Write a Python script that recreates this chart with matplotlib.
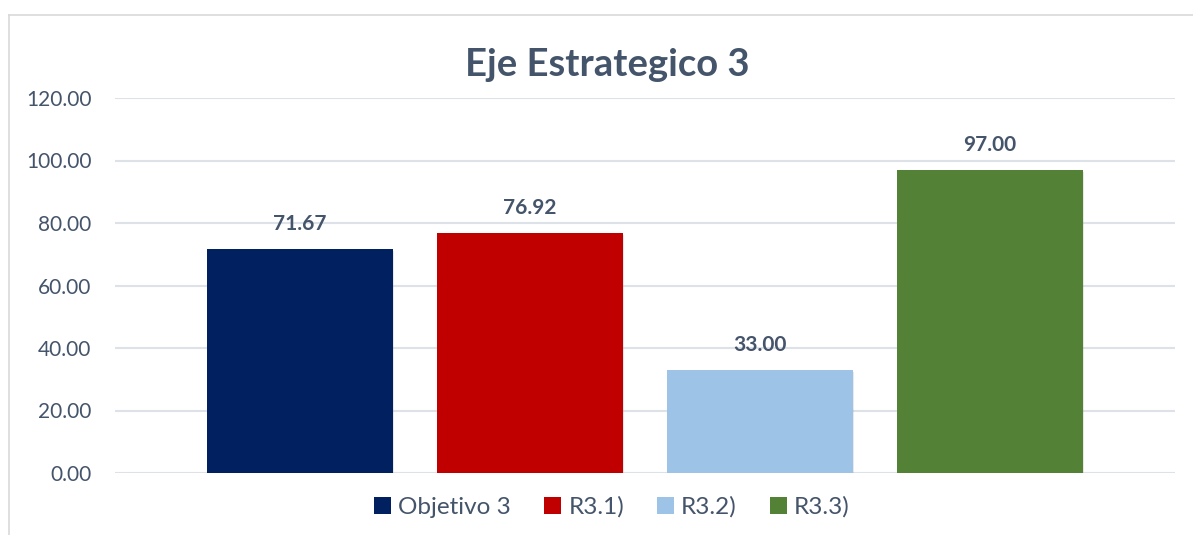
import matplotlib
matplotlib.use('Agg')
import matplotlib.pyplot as plt
from matplotlib.lines import Line2D
from matplotlib.patches import Patch
import matplotlib.patheffects as pe

plt.rcParams.update({
    'font.family': ['Lato', 'DejaVu Sans'],
    'font.size': 14,
})

TEXT = '#44546A'
GRID = '#DDE1E8'

# Data
series = ['Objetivo 3', 'R3.1)', 'R3.2)', 'R3.3)']
values = [71.67, 76.92, 33.00, 97.00]
colors = ['#002060', '#C00000', '#9DC3E6', '#538135']
y_ticks = [0, 20, 40, 60, 80, 100, 120]

fig = plt.figure(figsize=(11.93, 5.35), dpi=100)
ax = fig.add_axes([115 / 1193, 62 / 535, 1060 / 1193, 375 / 535])

x = list(range(len(series)))
bars = ax.bar(x, values, width=186 / 230, color=colors, zorder=3)
for b in bars:
    b.set_path_effects([pe.SimplePatchShadow(offset=(1, -1.5), alpha=0.18, shadow_rgbFace='gray'),
                        pe.Normal()])

for xi, v in zip(x, values):
    ax.annotate(f'{v:.2f}', (xi, v), xytext=(0, 18), textcoords='offset points',
                ha='center', va='center', fontsize=15, fontweight='bold', color=TEXT)

ax.set_xlim(1.5 - 1060 / 460, 1.5 + 1060 / 460)
ax.set_ylim(0, 120)
ax.set_yticks(y_ticks)
ax.set_yticklabels([f'{t:.2f}' for t in y_ticks], color=TEXT, fontsize=15)
ax.set_xticks([])
ax.tick_params(axis='y', length=0, pad=17)
ax.grid(axis='y', color=GRID, linewidth=1.5, zorder=0)
for s in ax.spines.values():
    s.set_visible(False)

fig.text(607 / 1193, 1 - 65 / 535, 'Eje Estrategico 3', ha='center', va='center',
         fontsize=27.5, fontweight='bold', color=TEXT)

handles = [Patch(facecolor=c, edgecolor='none') for c in colors]
leg = fig.legend(handles, series, loc='center', bbox_to_anchor=(612 / 1193, 1 - 507 / 535),
                 ncol=4, frameon=False, handlelength=0.7, handleheight=0.7,
                 handletextpad=0.3, columnspacing=1.35, fontsize=17.5)
for t in leg.get_texts():
    t.set_color(TEXT)

# chart area border (top and left visible in the crop)
fig.add_artist(Line2D([9 / 1193, 1], [1 - 15 / 535, 1 - 15 / 535], color='#D9D9D9', linewidth=1.2))
fig.add_artist(Line2D([9 / 1193, 9 / 1193], [0, 1 - 15 / 535], color='#D9D9D9', linewidth=1.2))

fig.savefig('out.png', dpi=100)
